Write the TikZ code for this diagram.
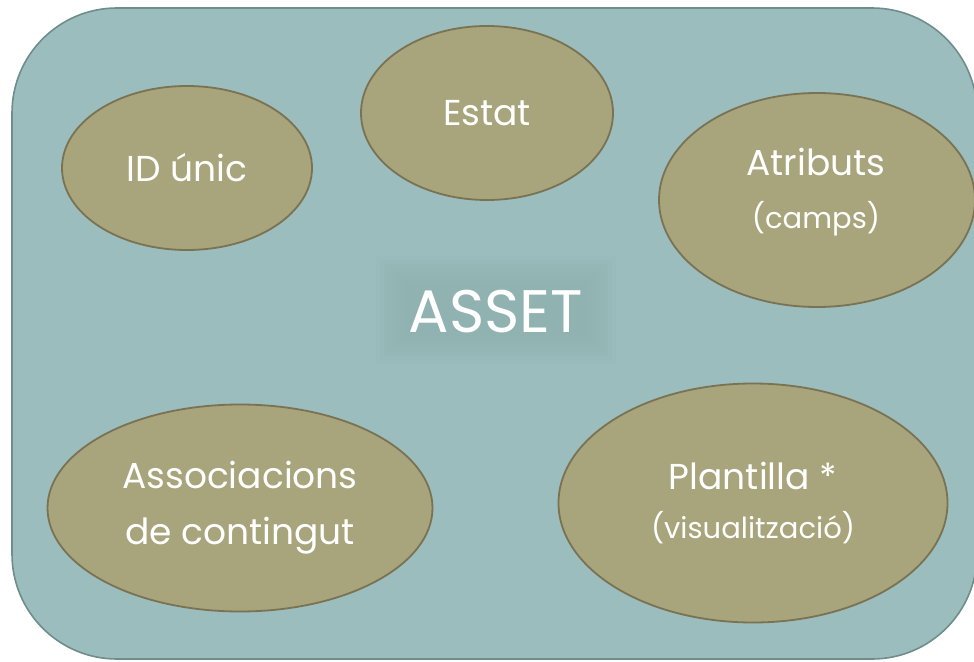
\documentclass[tikz,border=0pt]{standalone}
\usepackage{fontspec}
\setmainfont{Poppins}
\usetikzlibrary{shapes.geometric}
\definecolor{panelfill}{HTML}{9BBDBD}
\definecolor{paneledge}{HTML}{6F8D8C}
\definecolor{blobfill}{HTML}{A8A47C}
\definecolor{blobedge}{HTML}{7A7353}
\definecolor{glow}{HTML}{8AAEAD}
\tikzset{
  blob/.style={ellipse, draw=blobedge, fill=blobfill, line width=1.8pt,
    inner sep=0pt, text=white, align=center,
    font=\fontsize{36}{56}\selectfont}
}
\newcommand\sublabel[1]{{\fontsize{29}{30}\selectfont #1}}
\begin{document}
\begin{tikzpicture}[x=1pt,y=-1pt]
  \useasboundingbox (0,0) rectangle (974,661);
  % outer panel
  \draw [paneledge, fill=panelfill, line width=1.6pt, rounded corners=105pt]
    (12,8) rectangle (977,659);
  % soft shade behind the title
  \foreach \g in {0,4,...,28}
    \fill [glow, opacity=0.09] (376+\g,256+\g) rectangle (616-\g,364-\g);
  \node [text=white, font=\fontsize{60}{64}\selectfont] (asset) at (496,312) {ASSET};
  % the five parts
  \node [blob, minimum width=250pt, minimum height=164pt] (id) at (187,168) {ID únic};
  \node [blob, minimum width=252pt, minimum height=174pt] (estat) at (487,113) {Estat};
  \node [blob, minimum width=316pt, minimum height=214pt] (atributs) at (817,200) {};
  \node [text=white, align=center, font=\fontsize{36}{56}\selectfont] (atributslbl)
    at (816,192) {Atributs\\[-3pt]\sublabel{(camps)}};
  \node [blob, minimum width=385pt, minimum height=207pt] (assoc) at (240,508)
    {Associacions\\de contingut};
  \node [blob, minimum width=389pt, minimum height=239pt] (plantilla) at (753,503)
    {Plantilla *\\[-7pt]\sublabel{(visualització)}};
\end{tikzpicture}
\end{document}
